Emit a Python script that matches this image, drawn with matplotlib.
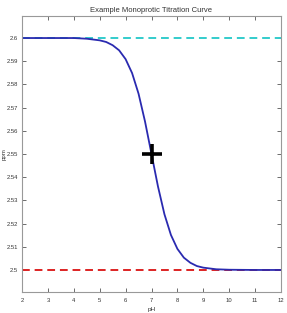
import matplotlib
matplotlib.use("Agg")
import matplotlib.pyplot as plt

plt.rcParams['font.family'] = ['Liberation Sans', 'DejaVu Sans']

# Data
ph = [2.0, 2.5, 3.0, 3.5, 4.0, 4.5, 5.0, 5.25, 5.5, 5.75, 6.0, 6.25, 6.5, 6.75,
      7.0, 7.25, 7.5, 7.75, 8.0, 8.25, 8.5, 8.75, 9.0, 9.5, 10.0, 11.0, 12.0]
ppm = [2.6000, 2.6000, 2.6000, 2.6000, 2.6000, 2.5997, 2.5990, 2.5983, 2.5969,
       2.5947, 2.5909, 2.5849, 2.5760, 2.5640, 2.5500, 2.5360, 2.5240, 2.5151,
       2.5091, 2.5053, 2.5031, 2.5017, 2.5010, 2.5003, 2.5001, 2.5000, 2.5000]
upper_ppm = 2.6
lower_ppm = 2.5
pka_ph = 7.0
pka_ppm = 2.55
xticks = [2, 3, 4, 5, 6, 7, 8, 9, 10, 11, 12]
yticks = [2.5, 2.51, 2.52, 2.53, 2.54, 2.55, 2.56, 2.57, 2.58, 2.59, 2.6]
ytick_labels = ["2.5", "2.51", "2.52", "2.53", "2.54", "2.55", "2.56", "2.57",
                "2.58", "2.59", "2.6"]

fig = plt.figure(figsize=(2.87, 3.13), dpi=100)
ax = fig.add_axes([22/287, 1-292/313, (281-22)/287, (292-16)/313])

ax.plot([xticks[0], xticks[-1]], [upper_ppm, upper_ppm], '--', color='#33cccc', lw=1.4, dashes=(4, 2.5))
ax.plot([xticks[0], xticks[-1]], [lower_ppm, lower_ppm], '--', color='#dd2222', lw=1.4, dashes=(4, 2.5))
ax.plot(ph, ppm, color='#2a2ab0', lw=1.3)
ax.plot([pka_ph], [pka_ppm], '+', color='black', ms=14, mew=2.6)

ax.set_xlim(2, 12)
ax.set_ylim(2.4905, 2.6095)
ax.set_xticks(xticks)
ax.set_xticklabels([str(t) for t in xticks])
ax.set_yticks(yticks)
ax.set_yticklabels(ytick_labels)
ax.tick_params(direction='in', length=3, width=0.6, labelsize=4.2, colors='#555555',
               top=True, right=True, pad=4)
ax.tick_params(axis='y', pad=3)
ax.tick_params(labelcolor='#333333')
for s in ax.spines.values():
    s.set_color('#999999')
    s.set_linewidth(0.8)

ax.set_title("Example Monoprotic Titration Curve", fontsize=5.5, color='#333333', pad=3)
ax.set_xlabel("pH", fontsize=4.6, color='#333333', labelpad=3)
ax.set_ylabel("ppm", fontsize=4.4, color='#333333')
ax.yaxis.set_label_coords(-15/259, 0.5)

fig.savefig("out.png", dpi=100)
